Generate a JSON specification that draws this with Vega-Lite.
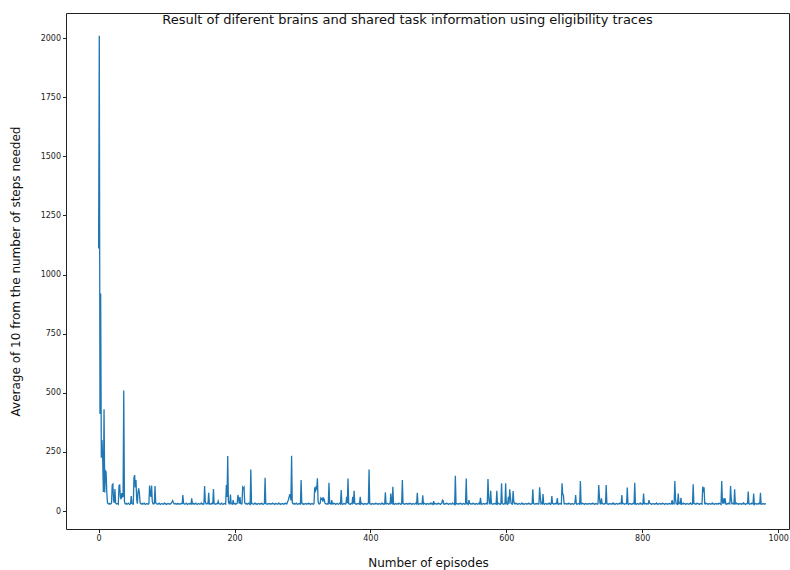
{
  "$schema": "https://vega.github.io/schema/vega-lite/v6.json",
  "autosize": {"type": "none"},
  "width": 723,
  "height": 516,
  "padding": {"left": 66, "top": 13, "right": 1, "bottom": 41},
  "background": "white",
  "title": {"text": "Result of diferent brains and shared task information using eligibility traces", "anchor": "middle", "dx": -20, "baseline": "alphabetic", "offset": -24, "fontSize": 13, "font": "DejaVu Sans", "fontWeight": "normal", "color": "#111"},
  "config": {
    "view": {"stroke": "#222", "strokeWidth": 1},
    "font": "DejaVu Sans",
    "axis": {"grid": false, "domain": false, "tickColor": "#222", "tickSize": 3.5, "labelFontSize": 8, "labelColor": "#222", "labelPadding": 2, "titleFontSize": 12, "titleFontWeight": "normal", "titleColor": "#111", "labelFont": "DejaVu Sans", "titleFont": "DejaVu Sans", "format": "d"}
  },
  "data": {"values": [
{"e":0,"v":1110},{"e":1,"v":2010},{"e":2,"v":410},{"e":3,"v":920},{"e":4,"v":225},{"e":5,"v":300},{"e":6,"v":220},{"e":7,"v":80},{"e":8,"v":430},{"e":9,"v":78},
{"e":10,"v":170},{"e":11,"v":165},{"e":12,"v":80},{"e":13,"v":35},{"e":14,"v":31},{"e":15,"v":30},{"e":16,"v":32},{"e":17,"v":29},{"e":18,"v":31},{"e":19,"v":33},
{"e":20,"v":110},{"e":21,"v":114},{"e":22,"v":45},{"e":23,"v":35},{"e":24,"v":93},{"e":25,"v":35},{"e":26,"v":30},{"e":27,"v":31},{"e":28,"v":32},{"e":29,"v":29},
{"e":30,"v":108},{"e":31,"v":110},{"e":32,"v":60},{"e":33,"v":50},{"e":34,"v":76},{"e":35,"v":60},{"e":36,"v":62},{"e":37,"v":510},{"e":38,"v":40},{"e":39,"v":31},
{"e":40,"v":30},{"e":41,"v":32},{"e":42,"v":29},{"e":43,"v":31},{"e":44,"v":33},{"e":45,"v":30},{"e":46,"v":28},{"e":47,"v":31},{"e":48,"v":63},{"e":49,"v":32},
{"e":50,"v":30},{"e":51,"v":29},{"e":52,"v":140},{"e":53,"v":152},{"e":54,"v":100},{"e":55,"v":131},{"e":56,"v":50},{"e":57,"v":31},{"e":58,"v":80},{"e":59,"v":96},
{"e":60,"v":76},{"e":61,"v":35},{"e":62,"v":31},{"e":63,"v":30},{"e":64,"v":32},{"e":65,"v":29},{"e":66,"v":31},{"e":67,"v":33},{"e":68,"v":30},{"e":69,"v":28},
{"e":70,"v":31},{"e":71,"v":32},{"e":72,"v":30},{"e":73,"v":29},{"e":74,"v":31},{"e":75,"v":108},{"e":76,"v":70},{"e":77,"v":60},{"e":78,"v":108},{"e":79,"v":40},
{"e":80,"v":31},{"e":81,"v":30},{"e":82,"v":32},{"e":83,"v":106},{"e":84,"v":35},{"e":85,"v":31},{"e":86,"v":30},{"e":87,"v":29},{"e":88,"v":31},{"e":89,"v":33},
{"e":90,"v":30},{"e":91,"v":28},{"e":92,"v":31},{"e":93,"v":32},{"e":94,"v":30},{"e":95,"v":29},{"e":96,"v":31},{"e":97,"v":34},{"e":98,"v":30},{"e":99,"v":31},
{"e":100,"v":28},{"e":101,"v":30},{"e":102,"v":32},{"e":103,"v":31},{"e":104,"v":29},{"e":105,"v":31},{"e":106,"v":30},{"e":107,"v":33},{"e":108,"v":38},{"e":109,"v":44},
{"e":110,"v":36},{"e":111,"v":31},{"e":112,"v":30},{"e":113,"v":32},{"e":114,"v":30},{"e":115,"v":29},{"e":116,"v":32},{"e":117,"v":30},{"e":118,"v":31},{"e":119,"v":29},
{"e":120,"v":31},{"e":121,"v":30},{"e":122,"v":32},{"e":123,"v":31},{"e":124,"v":68},{"e":125,"v":32},{"e":126,"v":30},{"e":127,"v":29},{"e":128,"v":31},{"e":129,"v":33},
{"e":130,"v":30},{"e":131,"v":28},{"e":132,"v":31},{"e":133,"v":32},{"e":134,"v":30},{"e":135,"v":31},{"e":136,"v":29},{"e":137,"v":54},{"e":138,"v":31},{"e":139,"v":30},
{"e":140,"v":32},{"e":141,"v":29},{"e":142,"v":31},{"e":143,"v":33},{"e":144,"v":30},{"e":145,"v":28},{"e":146,"v":31},{"e":147,"v":32},{"e":148,"v":30},{"e":149,"v":29},
{"e":150,"v":31},{"e":151,"v":34},{"e":152,"v":30},{"e":153,"v":31},{"e":154,"v":28},{"e":155,"v":30},{"e":156,"v":106},{"e":157,"v":40},{"e":158,"v":31},{"e":159,"v":30},
{"e":160,"v":32},{"e":161,"v":31},{"e":162,"v":77},{"e":163,"v":30},{"e":164,"v":29},{"e":165,"v":31},{"e":166,"v":30},{"e":167,"v":33},{"e":168,"v":31},{"e":169,"v":93},
{"e":170,"v":32},{"e":171,"v":30},{"e":172,"v":29},{"e":173,"v":31},{"e":174,"v":30},{"e":175,"v":32},{"e":176,"v":42},{"e":177,"v":31},{"e":178,"v":30},{"e":179,"v":29},
{"e":180,"v":31},{"e":181,"v":33},{"e":182,"v":30},{"e":183,"v":28},{"e":184,"v":31},{"e":185,"v":32},{"e":186,"v":30},{"e":187,"v":29},{"e":188,"v":110},{"e":189,"v":60},
{"e":190,"v":233},{"e":191,"v":40},{"e":192,"v":31},{"e":193,"v":30},{"e":194,"v":70},{"e":195,"v":32},{"e":196,"v":30},{"e":197,"v":29},{"e":198,"v":46},{"e":199,"v":31},
{"e":200,"v":30},{"e":201,"v":32},{"e":202,"v":29},{"e":203,"v":31},{"e":204,"v":33},{"e":205,"v":68},{"e":206,"v":50},{"e":207,"v":31},{"e":208,"v":59},{"e":209,"v":32},
{"e":210,"v":30},{"e":211,"v":31},{"e":212,"v":100},{"e":213,"v":95},{"e":214,"v":100},{"e":215,"v":35},{"e":216,"v":31},{"e":217,"v":30},{"e":218,"v":32},{"e":219,"v":29},
{"e":220,"v":31},{"e":221,"v":33},{"e":222,"v":30},{"e":223,"v":28},{"e":224,"v":176},{"e":225,"v":31},{"e":226,"v":32},{"e":227,"v":30},{"e":228,"v":29},{"e":229,"v":31},
{"e":230,"v":34},{"e":231,"v":30},{"e":232,"v":31},{"e":233,"v":28},{"e":234,"v":30},{"e":235,"v":32},{"e":236,"v":31},{"e":237,"v":29},{"e":238,"v":31},{"e":239,"v":30},
{"e":240,"v":33},{"e":241,"v":31},{"e":242,"v":28},{"e":243,"v":30},{"e":244,"v":32},{"e":245,"v":141},{"e":246,"v":31},{"e":247,"v":30},{"e":248,"v":29},{"e":249,"v":31},
{"e":250,"v":30},{"e":251,"v":32},{"e":252,"v":31},{"e":253,"v":29},{"e":254,"v":31},{"e":255,"v":30},{"e":256,"v":33},{"e":257,"v":31},{"e":258,"v":30},{"e":259,"v":28},
{"e":260,"v":31},{"e":261,"v":32},{"e":262,"v":30},{"e":263,"v":29},{"e":264,"v":31},{"e":265,"v":34},{"e":266,"v":30},{"e":267,"v":31},{"e":268,"v":28},{"e":269,"v":30},
{"e":270,"v":32},{"e":271,"v":31},{"e":272,"v":29},{"e":273,"v":31},{"e":274,"v":30},{"e":275,"v":33},{"e":276,"v":31},{"e":277,"v":30},{"e":278,"v":38},{"e":279,"v":45},
{"e":280,"v":55},{"e":281,"v":68},{"e":282,"v":70},{"e":283,"v":45},{"e":284,"v":234},{"e":285,"v":35},{"e":286,"v":31},{"e":287,"v":30},{"e":288,"v":32},{"e":289,"v":29},
{"e":290,"v":31},{"e":291,"v":33},{"e":292,"v":30},{"e":293,"v":28},{"e":294,"v":31},{"e":295,"v":32},{"e":296,"v":30},{"e":297,"v":29},{"e":298,"v":131},{"e":299,"v":34},
{"e":300,"v":30},{"e":301,"v":31},{"e":302,"v":28},{"e":303,"v":30},{"e":304,"v":32},{"e":305,"v":31},{"e":306,"v":29},{"e":307,"v":31},{"e":308,"v":30},{"e":309,"v":33},
{"e":310,"v":31},{"e":311,"v":30},{"e":312,"v":28},{"e":313,"v":31},{"e":314,"v":32},{"e":315,"v":30},{"e":316,"v":29},{"e":317,"v":31},{"e":318,"v":100},{"e":319,"v":80},
{"e":320,"v":100},{"e":321,"v":95},{"e":322,"v":138},{"e":323,"v":40},{"e":324,"v":31},{"e":325,"v":30},{"e":326,"v":32},{"e":327,"v":54},{"e":328,"v":50},{"e":329,"v":54},
{"e":330,"v":40},{"e":331,"v":54},{"e":332,"v":50},{"e":333,"v":33},{"e":334,"v":31},{"e":335,"v":30},{"e":336,"v":29},{"e":337,"v":31},{"e":338,"v":30},{"e":339,"v":120},
{"e":340,"v":32},{"e":341,"v":31},{"e":342,"v":29},{"e":343,"v":46},{"e":344,"v":31},{"e":345,"v":30},{"e":346,"v":33},{"e":347,"v":31},{"e":348,"v":30},{"e":349,"v":28},
{"e":350,"v":31},{"e":351,"v":32},{"e":352,"v":30},{"e":353,"v":29},{"e":354,"v":31},{"e":355,"v":34},{"e":356,"v":30},{"e":357,"v":89},{"e":358,"v":31},{"e":359,"v":28},
{"e":360,"v":30},{"e":361,"v":32},{"e":362,"v":31},{"e":363,"v":29},{"e":364,"v":31},{"e":365,"v":60},{"e":366,"v":33},{"e":367,"v":138},{"e":368,"v":31},{"e":369,"v":30},
{"e":370,"v":28},{"e":371,"v":31},{"e":372,"v":32},{"e":373,"v":30},{"e":374,"v":60},{"e":375,"v":31},{"e":376,"v":86},{"e":377,"v":32},{"e":378,"v":30},{"e":379,"v":29},
{"e":380,"v":31},{"e":381,"v":30},{"e":382,"v":32},{"e":383,"v":31},{"e":384,"v":29},{"e":385,"v":60},{"e":386,"v":30},{"e":387,"v":33},{"e":388,"v":31},{"e":389,"v":30},
{"e":390,"v":28},{"e":391,"v":31},{"e":392,"v":32},{"e":393,"v":30},{"e":394,"v":29},{"e":395,"v":31},{"e":396,"v":30},{"e":397,"v":34},{"e":398,"v":176},{"e":399,"v":31},
{"e":400,"v":30},{"e":401,"v":28},{"e":402,"v":31},{"e":403,"v":32},{"e":404,"v":30},{"e":405,"v":29},{"e":406,"v":31},{"e":407,"v":30},{"e":408,"v":33},{"e":409,"v":31},
{"e":410,"v":30},{"e":411,"v":28},{"e":412,"v":31},{"e":413,"v":32},{"e":414,"v":30},{"e":415,"v":29},{"e":416,"v":31},{"e":417,"v":34},{"e":418,"v":30},{"e":419,"v":31},
{"e":420,"v":28},{"e":421,"v":30},{"e":422,"v":79},{"e":423,"v":31},{"e":424,"v":30},{"e":425,"v":32},{"e":426,"v":31},{"e":427,"v":29},{"e":428,"v":31},{"e":429,"v":30},
{"e":430,"v":74},{"e":431,"v":33},{"e":432,"v":31},{"e":433,"v":103},{"e":434,"v":30},{"e":435,"v":28},{"e":436,"v":31},{"e":437,"v":32},{"e":438,"v":30},{"e":439,"v":29},
{"e":440,"v":31},{"e":441,"v":30},{"e":442,"v":33},{"e":443,"v":31},{"e":444,"v":30},{"e":445,"v":28},{"e":446,"v":31},{"e":447,"v":131},{"e":448,"v":32},{"e":449,"v":30},
{"e":450,"v":29},{"e":451,"v":31},{"e":452,"v":30},{"e":453,"v":32},{"e":454,"v":31},{"e":455,"v":29},{"e":456,"v":31},{"e":457,"v":30},{"e":458,"v":33},{"e":459,"v":31},
{"e":460,"v":30},{"e":461,"v":28},{"e":462,"v":31},{"e":463,"v":32},{"e":464,"v":30},{"e":465,"v":29},{"e":466,"v":31},{"e":467,"v":34},{"e":468,"v":30},{"e":469,"v":77},
{"e":470,"v":31},{"e":471,"v":28},{"e":472,"v":30},{"e":473,"v":32},{"e":474,"v":31},{"e":475,"v":29},{"e":476,"v":31},{"e":477,"v":66},{"e":478,"v":30},{"e":479,"v":33},
{"e":480,"v":31},{"e":481,"v":30},{"e":482,"v":28},{"e":483,"v":31},{"e":484,"v":32},{"e":485,"v":30},{"e":486,"v":29},{"e":487,"v":31},{"e":488,"v":30},{"e":489,"v":34},
{"e":490,"v":30},{"e":491,"v":31},{"e":492,"v":28},{"e":493,"v":42},{"e":494,"v":30},{"e":495,"v":32},{"e":496,"v":31},{"e":497,"v":29},{"e":498,"v":31},{"e":499,"v":30},
{"e":500,"v":33},{"e":501,"v":31},{"e":502,"v":30},{"e":503,"v":28},{"e":504,"v":31},{"e":505,"v":32},{"e":506,"v":46},{"e":507,"v":44},{"e":508,"v":30},{"e":509,"v":29},
{"e":510,"v":31},{"e":511,"v":30},{"e":512,"v":33},{"e":513,"v":31},{"e":514,"v":30},{"e":515,"v":28},{"e":516,"v":31},{"e":517,"v":32},{"e":518,"v":30},{"e":519,"v":29},
{"e":520,"v":31},{"e":521,"v":34},{"e":522,"v":30},{"e":523,"v":31},{"e":524,"v":28},{"e":525,"v":149},{"e":526,"v":30},{"e":527,"v":32},{"e":528,"v":31},{"e":529,"v":29},
{"e":530,"v":31},{"e":531,"v":30},{"e":532,"v":33},{"e":533,"v":31},{"e":534,"v":30},{"e":535,"v":28},{"e":536,"v":31},{"e":537,"v":32},{"e":538,"v":30},{"e":539,"v":29},
{"e":540,"v":31},{"e":541,"v":138},{"e":542,"v":30},{"e":543,"v":31},{"e":544,"v":28},{"e":545,"v":46},{"e":546,"v":32},{"e":547,"v":31},{"e":548,"v":29},{"e":549,"v":31},
{"e":550,"v":30},{"e":551,"v":33},{"e":552,"v":31},{"e":553,"v":30},{"e":554,"v":28},{"e":555,"v":31},{"e":556,"v":32},{"e":557,"v":30},{"e":558,"v":29},{"e":559,"v":31},
{"e":560,"v":34},{"e":561,"v":30},{"e":562,"v":56},{"e":563,"v":31},{"e":564,"v":28},{"e":565,"v":30},{"e":566,"v":32},{"e":567,"v":31},{"e":568,"v":29},{"e":569,"v":31},
{"e":570,"v":30},{"e":571,"v":33},{"e":572,"v":31},{"e":573,"v":135},{"e":574,"v":60},{"e":575,"v":31},{"e":576,"v":30},{"e":577,"v":86},{"e":578,"v":32},{"e":579,"v":30},
{"e":580,"v":29},{"e":581,"v":31},{"e":582,"v":30},{"e":583,"v":32},{"e":584,"v":31},{"e":585,"v":29},{"e":586,"v":86},{"e":587,"v":30},{"e":588,"v":33},{"e":589,"v":31},
{"e":590,"v":30},{"e":591,"v":28},{"e":592,"v":31},{"e":593,"v":117},{"e":594,"v":32},{"e":595,"v":30},{"e":596,"v":29},{"e":597,"v":31},{"e":598,"v":30},{"e":599,"v":117},
{"e":600,"v":31},{"e":601,"v":30},{"e":602,"v":28},{"e":603,"v":60},{"e":604,"v":31},{"e":605,"v":92},{"e":606,"v":60},{"e":607,"v":32},{"e":608,"v":30},{"e":609,"v":29},
{"e":610,"v":85},{"e":611,"v":40},{"e":612,"v":31},{"e":613,"v":30},{"e":614,"v":33},{"e":615,"v":31},{"e":616,"v":30},{"e":617,"v":28},{"e":618,"v":31},{"e":619,"v":32},
{"e":620,"v":30},{"e":621,"v":29},{"e":622,"v":31},{"e":623,"v":34},{"e":624,"v":30},{"e":625,"v":31},{"e":626,"v":28},{"e":627,"v":30},{"e":628,"v":32},{"e":629,"v":31},
{"e":630,"v":29},{"e":631,"v":31},{"e":632,"v":30},{"e":633,"v":33},{"e":634,"v":31},{"e":635,"v":30},{"e":636,"v":28},{"e":637,"v":31},{"e":638,"v":32},{"e":639,"v":92},
{"e":640,"v":31},{"e":641,"v":30},{"e":642,"v":29},{"e":643,"v":31},{"e":644,"v":30},{"e":645,"v":32},{"e":646,"v":31},{"e":647,"v":29},{"e":648,"v":31},{"e":649,"v":100},
{"e":650,"v":60},{"e":651,"v":30},{"e":652,"v":33},{"e":653,"v":31},{"e":654,"v":72},{"e":655,"v":30},{"e":656,"v":28},{"e":657,"v":31},{"e":658,"v":32},{"e":659,"v":30},
{"e":660,"v":29},{"e":661,"v":31},{"e":662,"v":30},{"e":663,"v":34},{"e":664,"v":31},{"e":665,"v":28},{"e":666,"v":30},{"e":667,"v":63},{"e":668,"v":32},{"e":669,"v":31},
{"e":670,"v":29},{"e":671,"v":31},{"e":672,"v":30},{"e":673,"v":33},{"e":674,"v":31},{"e":675,"v":55},{"e":676,"v":30},{"e":677,"v":28},{"e":678,"v":31},{"e":679,"v":32},
{"e":680,"v":30},{"e":681,"v":29},{"e":682,"v":117},{"e":683,"v":70},{"e":684,"v":68},{"e":685,"v":31},{"e":686,"v":30},{"e":687,"v":32},{"e":688,"v":31},{"e":689,"v":29},
{"e":690,"v":31},{"e":691,"v":30},{"e":692,"v":33},{"e":693,"v":31},{"e":694,"v":30},{"e":695,"v":28},{"e":696,"v":31},{"e":697,"v":32},{"e":698,"v":30},{"e":699,"v":29},
{"e":700,"v":31},{"e":701,"v":34},{"e":702,"v":68},{"e":703,"v":31},{"e":704,"v":28},{"e":705,"v":30},{"e":706,"v":32},{"e":707,"v":31},{"e":708,"v":29},{"e":709,"v":127},
{"e":710,"v":31},{"e":711,"v":30},{"e":712,"v":33},{"e":713,"v":31},{"e":714,"v":30},{"e":715,"v":28},{"e":716,"v":31},{"e":717,"v":32},{"e":718,"v":30},{"e":719,"v":29},
{"e":720,"v":31},{"e":721,"v":30},{"e":722,"v":32},{"e":723,"v":31},{"e":724,"v":29},{"e":725,"v":31},{"e":726,"v":30},{"e":727,"v":33},{"e":728,"v":31},{"e":729,"v":30},
{"e":730,"v":28},{"e":731,"v":31},{"e":732,"v":32},{"e":733,"v":30},{"e":734,"v":29},{"e":735,"v":31},{"e":736,"v":110},{"e":737,"v":60},{"e":738,"v":31},{"e":739,"v":30},
{"e":740,"v":54},{"e":741,"v":32},{"e":742,"v":31},{"e":743,"v":29},{"e":744,"v":31},{"e":745,"v":30},{"e":746,"v":33},{"e":747,"v":110},{"e":748,"v":31},{"e":749,"v":30},
{"e":750,"v":28},{"e":751,"v":31},{"e":752,"v":32},{"e":753,"v":30},{"e":754,"v":29},{"e":755,"v":31},{"e":756,"v":30},{"e":757,"v":34},{"e":758,"v":30},{"e":759,"v":31},
{"e":760,"v":28},{"e":761,"v":30},{"e":762,"v":32},{"e":763,"v":31},{"e":764,"v":29},{"e":765,"v":31},{"e":766,"v":30},{"e":767,"v":33},{"e":768,"v":31},{"e":769,"v":30},
{"e":770,"v":68},{"e":771,"v":31},{"e":772,"v":32},{"e":773,"v":30},{"e":774,"v":29},{"e":775,"v":31},{"e":776,"v":30},{"e":777,"v":31},{"e":778,"v":99},{"e":779,"v":30},
{"e":780,"v":28},{"e":781,"v":31},{"e":782,"v":32},{"e":783,"v":30},{"e":784,"v":29},{"e":785,"v":31},{"e":786,"v":30},{"e":787,"v":33},{"e":788,"v":31},{"e":789,"v":120},
{"e":790,"v":30},{"e":791,"v":28},{"e":792,"v":31},{"e":793,"v":32},{"e":794,"v":30},{"e":795,"v":29},{"e":796,"v":31},{"e":797,"v":34},{"e":798,"v":30},{"e":799,"v":31},
{"e":800,"v":28},{"e":801,"v":30},{"e":802,"v":74},{"e":803,"v":31},{"e":804,"v":30},{"e":805,"v":32},{"e":806,"v":31},{"e":807,"v":29},{"e":808,"v":31},{"e":809,"v":30},
{"e":810,"v":46},{"e":811,"v":33},{"e":812,"v":31},{"e":813,"v":30},{"e":814,"v":28},{"e":815,"v":31},{"e":816,"v":32},{"e":817,"v":30},{"e":818,"v":29},{"e":819,"v":31},
{"e":820,"v":30},{"e":821,"v":34},{"e":822,"v":31},{"e":823,"v":28},{"e":824,"v":30},{"e":825,"v":32},{"e":826,"v":31},{"e":827,"v":29},{"e":828,"v":31},{"e":829,"v":30},
{"e":830,"v":33},{"e":831,"v":31},{"e":832,"v":30},{"e":833,"v":28},{"e":834,"v":31},{"e":835,"v":32},{"e":836,"v":30},{"e":837,"v":29},{"e":838,"v":31},{"e":839,"v":30},
{"e":840,"v":32},{"e":841,"v":31},{"e":842,"v":29},{"e":843,"v":31},{"e":844,"v":46},{"e":845,"v":30},{"e":846,"v":33},{"e":847,"v":31},{"e":848,"v":127},{"e":849,"v":50},
{"e":850,"v":31},{"e":851,"v":30},{"e":852,"v":28},{"e":853,"v":74},{"e":854,"v":31},{"e":855,"v":32},{"e":856,"v":30},{"e":857,"v":56},{"e":858,"v":29},{"e":859,"v":31},
{"e":860,"v":30},{"e":861,"v":33},{"e":862,"v":31},{"e":863,"v":30},{"e":864,"v":28},{"e":865,"v":31},{"e":866,"v":32},{"e":867,"v":30},{"e":868,"v":29},{"e":869,"v":31},
{"e":870,"v":30},{"e":871,"v":34},{"e":872,"v":31},{"e":873,"v":28},{"e":874,"v":30},{"e":875,"v":113},{"e":876,"v":32},{"e":877,"v":31},{"e":878,"v":29},{"e":879,"v":31},
{"e":880,"v":30},{"e":881,"v":33},{"e":882,"v":31},{"e":883,"v":30},{"e":884,"v":28},{"e":885,"v":31},{"e":886,"v":32},{"e":887,"v":30},{"e":888,"v":29},{"e":889,"v":103},
{"e":890,"v":80},{"e":891,"v":100},{"e":892,"v":31},{"e":893,"v":30},{"e":894,"v":33},{"e":895,"v":31},{"e":896,"v":30},{"e":897,"v":28},{"e":898,"v":31},{"e":899,"v":32},
{"e":900,"v":30},{"e":901,"v":29},{"e":902,"v":31},{"e":903,"v":34},{"e":904,"v":30},{"e":905,"v":31},{"e":906,"v":28},{"e":907,"v":30},{"e":908,"v":32},{"e":909,"v":31},
{"e":910,"v":29},{"e":911,"v":31},{"e":912,"v":30},{"e":913,"v":33},{"e":914,"v":31},{"e":915,"v":30},{"e":916,"v":28},{"e":917,"v":127},{"e":918,"v":40},{"e":919,"v":31},
{"e":920,"v":54},{"e":921,"v":32},{"e":922,"v":54},{"e":923,"v":30},{"e":924,"v":29},{"e":925,"v":31},{"e":926,"v":30},{"e":927,"v":33},{"e":928,"v":31},{"e":929,"v":30},
{"e":930,"v":106},{"e":931,"v":50},{"e":932,"v":31},{"e":933,"v":32},{"e":934,"v":30},{"e":935,"v":29},{"e":936,"v":92},{"e":937,"v":31},{"e":938,"v":30},{"e":939,"v":33},
{"e":940,"v":31},{"e":941,"v":30},{"e":942,"v":28},{"e":943,"v":31},{"e":944,"v":32},{"e":945,"v":30},{"e":946,"v":29},{"e":947,"v":31},{"e":948,"v":30},{"e":949,"v":34},
{"e":950,"v":30},{"e":951,"v":31},{"e":952,"v":28},{"e":953,"v":30},{"e":954,"v":32},{"e":955,"v":31},{"e":956,"v":82},{"e":957,"v":31},{"e":958,"v":29},{"e":959,"v":31},
{"e":960,"v":30},{"e":961,"v":33},{"e":962,"v":31},{"e":963,"v":30},{"e":964,"v":74},{"e":965,"v":28},{"e":966,"v":31},{"e":967,"v":32},{"e":968,"v":30},{"e":969,"v":29},
{"e":970,"v":31},{"e":971,"v":30},{"e":972,"v":33},{"e":973,"v":31},{"e":974,"v":77},{"e":975,"v":30},{"e":976,"v":28},{"e":977,"v":31},{"e":978,"v":32},{"e":979,"v":30},
{"e":980,"v":29},{"e":981,"v":31},{"e":982,"v":30}
  ]},
  "mark": {"type": "line", "color": "#1f77b4", "strokeWidth": 1.3, "clip": true},
  "encoding": {
    "x": {"field": "e", "type": "quantitative", "scale": {"domain": [-48, 1016], "nice": false, "zero": false},
      "axis": {"values": [0, 200, 400, 600, 800, 1000], "title": "Number of episodes", "titleX": 362, "titleY": 37, "titleBaseline": "alphabetic", "titleAlign": "center"}},
    "y": {"field": "v", "type": "quantitative", "scale": {"domain": [-76, 2106], "nice": false, "zero": false},
      "axis": {"values": [0, 250, 500, 750, 1000, 1250, 1500, 1750, 2000], "title": "Average of 10 from the number of steps needed", "titleX": -51, "titleY": 258, "titleAngle": -90, "titleBaseline": "middle", "titleAlign": "center"}}
  }
}
